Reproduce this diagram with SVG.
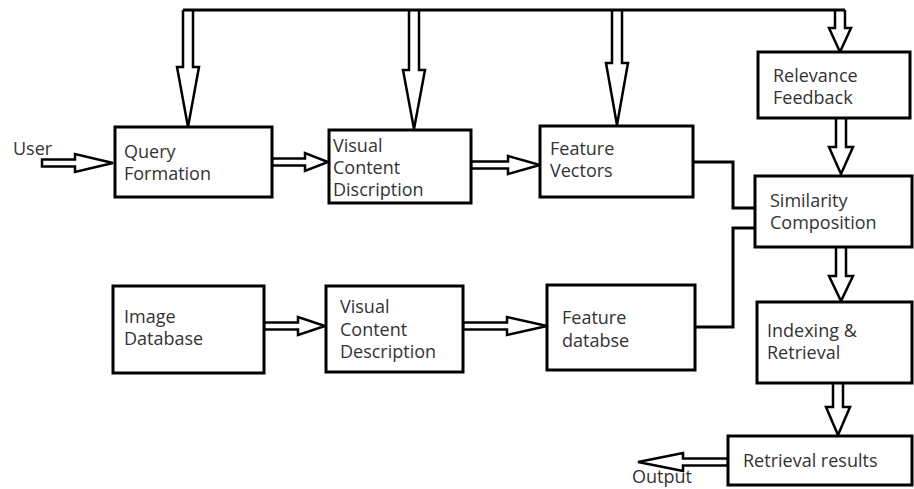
<svg xmlns="http://www.w3.org/2000/svg" width="914" height="489" viewBox="0 0 914 489">
<style>
.box{fill:#fff;stroke:#000;stroke-width:3}
.arr{fill:#fff;stroke:#000;stroke-width:2.5;stroke-linejoin:miter}
.ln{fill:none;stroke:#000;stroke-width:3}
text{font-family:"Open Sans","DejaVu Sans",sans-serif;font-size:18px;fill:#333}
</style>
<rect width="914" height="489" fill="#fff"/>
<g id="connectors">
<path class="arr" d="M183,10 V67 H177 L188,127 L199,67 H193 V10"/>
<path class="arr" d="M409,10 V70 H403 L414,129 L425,70 H419 V10"/>
<path class="arr" d="M612,10 V63 H606 L617,125 L628,63 H622 V10"/>
<path class="arr" d="M835,10 V28 H829 L840,52 L851,28 H845 V10"/>
<path class="ln" d="M183,10 H845"/>
<path class="arr" d="M42,159.5 H75 V154 L113,163 L75,172 V166.5 H42 Z"/>
<path class="arr" d="M272,158.5 H305 V153 L328,162 L305,171 V165.5 H272 Z"/>
<path class="arr" d="M471,161.5 H508 V156 L540,165 L508,174 V168.5 H471 Z"/>
<path class="arr" d="M264,322.5 H298 V317 L325,326 L298,335 V329.5 H264 Z"/>
<path class="arr" d="M463,322.5 H507 V317 L547,326 L507,335 V329.5 H463 Z"/>
<path class="arr" d="M728,458.5 H683 V453 L638,462 L683,471 V465.5 H728 Z"/>
<path class="arr" d="M836,118 V147 H829 L841,174 L853,147 H846 V118"/>
<path class="arr" d="M836,247 V276 H829 L841,301 L853,276 H846 V247"/>
<path class="arr" d="M833,383 V407 H826 L838,435 L850,407 H843 V383"/>
<path class="ln" d="M693,162 H733 V208 H755"/>
<path class="ln" d="M695,327 H733 V228 H755"/>
</g>
<g id="user"><text x="13" y="155">User</text></g>
<g id="output"><text x="632" y="483">Output</text></g>
<g id="query-formation"><rect class="box" x="115" y="127" width="157" height="70"/><text x="124" y="158">Query</text><text x="124" y="180">Formation</text></g>
<g id="vcd1"><rect class="box" x="329" y="130" width="142" height="73"/><text x="333" y="152">Visual</text><text x="333" y="174">Content</text><text x="333" y="196">Discription</text></g>
<g id="feature-vectors"><rect class="box" x="540" y="126" width="153" height="71"/><text x="550" y="155">Feature</text><text x="550" y="177">Vectors</text></g>
<g id="relevance-feedback"><rect class="box" x="758" y="52" width="152" height="66"/><text x="773" y="82">Relevance</text><text x="773" y="104">Feedback</text></g>
<g id="similarity-composition"><rect class="box" x="755" y="176" width="157" height="71"/><text x="770" y="207">Similarity</text><text x="770" y="229">Composition</text></g>
<g id="image-database"><rect class="box" x="113" y="286" width="151" height="87"/><text x="124" y="323">Image</text><text x="124" y="345">Database</text></g>
<g id="vcd2"><rect class="box" x="326" y="286" width="137" height="86"/><text x="340" y="313">Visual</text><text x="340" y="336">Content</text><text x="340" y="358">Description</text></g>
<g id="feature-database"><rect class="box" x="547" y="285" width="148" height="85"/><text x="562" y="324">Feature</text><text x="562" y="347">databse</text></g>
<g id="indexing-retrieval"><rect class="box" x="757" y="302" width="155" height="81"/><text x="767" y="337">Indexing &amp;</text><text x="767" y="359">Retrieval</text></g>
<g id="retrieval-results"><rect class="box" x="728" y="436" width="184" height="49"/><text x="743" y="467">Retrieval results</text></g>
</svg>
